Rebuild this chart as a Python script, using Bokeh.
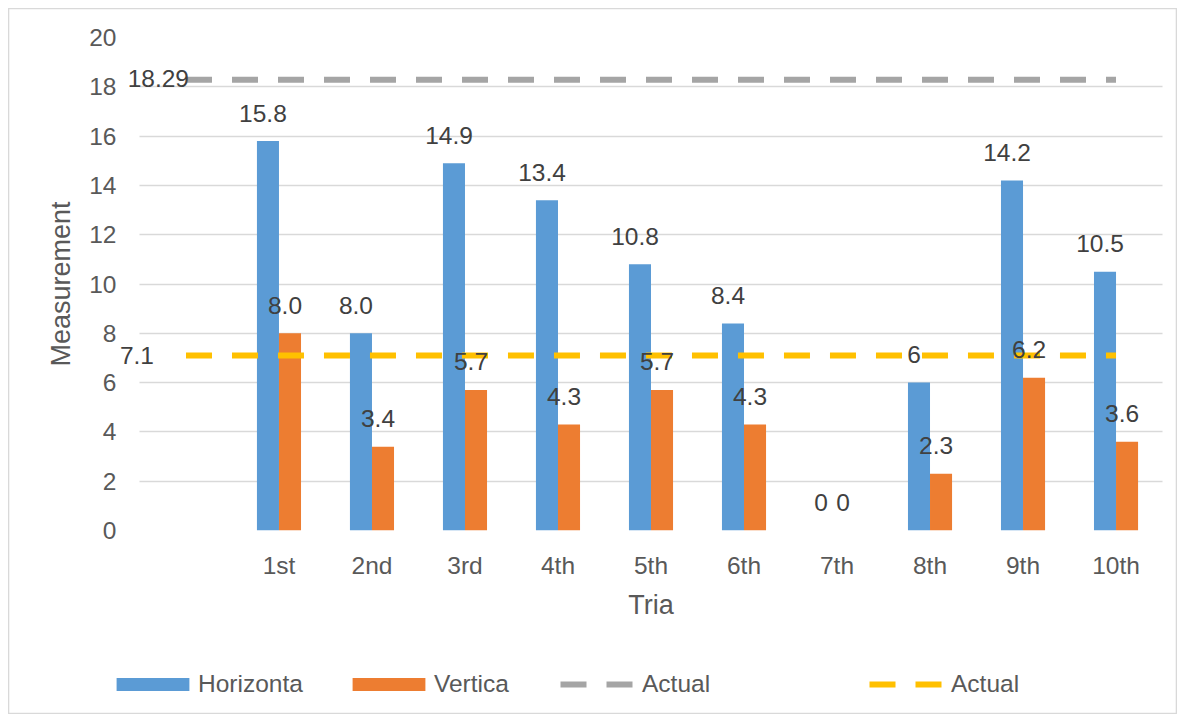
from bokeh.plotting import figure
from bokeh.layouts import column
from bokeh.models import (ColumnDataSource, FactorRange, Range1d, FixedTicker,
                          Legend, LegendItem, Title)
from bokeh.transform import dodge
from bokeh.core.properties import value
from bokeh.embed import file_html
from bokeh.resources import INLINE

# ---------------- data ----------------
categories = ["", "1st", "2nd", "3rd", "4th", "5th", "6th", "7th", "8th", "9th", "10th"]
trials = ["1st", "2nd", "3rd", "4th", "5th", "6th", "7th", "8th", "9th", "10th"]
horizontal = [15.8, 8.0, 14.9, 13.4, 10.8, 8.4, 0, 6, 14.2, 10.5]
vertical = [8.0, 3.4, 5.7, 4.3, 5.7, 4.3, 0, 2.3, 6.2, 3.6]
horizontal_labels = ["15.8", "8.0", "14.9", "13.4", "10.8", "8.4", "0", "6", "14.2", "10.5"]
vertical_labels = ["8.0", "3.4", "5.7", "4.3", "5.7", "4.3", "0", "2.3", "6.2", "3.6"]
actual_horizontal = [18.29, 18.29, 18.29, 18.29, 18.29, 18.29, 18.29, 18.29, 18.29, 18.29, 18.29]
actual_vertical = [7.1, 7.1, 7.1, 7.1, 7.1, 7.1, 7.1, 7.1, 7.1, 7.1, 7.1]
actual_horizontal_label = "18.29"
actual_vertical_label = "7.1"
y_ticks = [0, 2, 4, 6, 8, 10, 12, 14, 16, 18, 20]
x_title = "Tria"
y_title = "Measurement"
legend_labels = ["Horizonta", "Vertica", "Actual", "Actual"]

FONT = "Liberation Sans"
TICK_COLOR = "#595959"
LABEL_COLOR = "#404040"
BLUE = "#5B9BD5"
ORANGE = "#ED7D31"
GRAY = "#A5A5A5"
YELLOW = "#FFC000"
SMALL = "24.5px"
BIG = "27px"

# a little room on both sides of the categories so the labels of the
# reference lines (left of the first slot) are not clipped
PAD = 0.247

p = figure(x_range=FactorRange(factors=categories, range_padding=PAD,
                               range_padding_units="absolute"),
           y_range=Range1d(0, 20),
           width=1185, height=650,
           min_border_left=116, min_border_right=0,
           min_border_top=37, min_border_bottom=120,
           output_backend="svg", toolbar_location=None,
           outline_line_color=None,
           background_fill_alpha=0, border_fill_alpha=0)

# grid / axes
p.xgrid.grid_line_color = None
p.ygrid.grid_line_color = "#D9D9D9"
p.ygrid.grid_line_width = 1.3
if "cross_bounds" in p.ygrid[0].properties():
    p.ygrid[0].cross_bounds = (0, len(categories))
p.yaxis.ticker = FixedTicker(ticks=y_ticks)
for ax in (p.xaxis[0], p.yaxis[0]):
    ax.axis_line_color = None
    ax.major_tick_line_color = None
    ax.minor_tick_line_color = None
    ax.major_tick_out = 0
    ax.major_tick_in = 0
    ax.major_label_text_font = FONT
    ax.major_label_text_font_size = SMALL
    ax.major_label_text_color = TICK_COLOR
    ax.axis_label_text_font = FONT
    ax.axis_label_text_font_size = BIG
    ax.axis_label_text_font_style = "normal"
    ax.axis_label_text_color = TICK_COLOR
p.yaxis.major_label_standoff = 0
p.xaxis.major_label_standoff = 21
p.xaxis.axis_label = x_title
p.xaxis.axis_label_standoff = 8

# y title as a side title so it can sit a little below the frame's middle
p.add_layout(Title(text=y_title, align="center", offset=-28, standoff=19,
                   vertical_align="middle", text_font=FONT, text_font_size=BIG,
                   text_font_style="normal", text_color=TICK_COLOR), "left")

bar_src = ColumnDataSource(dict(trial=trials, h=horizontal, v=vertical,
                                hl=horizontal_labels, vl=vertical_labels))
line_src = ColumnDataSource(dict(cat=categories, ah=actual_horizontal, av=actual_vertical))

BW = 0.237
bar_h = dict(fill_color=BLUE, line_color=None)
bar_v = dict(fill_color=ORANGE, line_color=None)
line_g = dict(line_color=GRAY, line_width=6, line_dash="26 20")
line_y = dict(line_color=YELLOW, line_width=6, line_dash="26 20")

p.vbar(x=dodge("trial", -BW / 2, range=p.x_range), top="h", width=BW, source=bar_src, **bar_h)
p.vbar(x=dodge("trial", BW / 2, range=p.x_range), top="v", width=BW, source=bar_src, **bar_v)
p.line("cat", "ah", source=line_src, **line_g)
p.line("cat", "av", source=line_src, **line_y)

label_kw = dict(text_align="center", text_baseline="alphabetic", text_font=value(FONT),
                text_font_size=SMALL, text_color=LABEL_COLOR, x_offset=-5, y_offset=-28)
p.text(x=dodge("trial", -BW / 2, range=p.x_range), y="h", text="hl", source=bar_src, **label_kw)
p.text(x=dodge("trial", BW / 2, range=p.x_range), y="v", text="vl", source=bar_src, **label_kw)

p.text(x=[categories[0]], y=[actual_horizontal[0]], text=[actual_horizontal_label],
       text_align="right", text_baseline="middle", text_font=value(FONT),
       text_font_size=SMALL, text_color=LABEL_COLOR, x_offset=3, y_offset=-1)
p.text(x=[categories[0]], y=[actual_vertical[0]], text=[actual_vertical_label],
       text_align="right", text_baseline="middle", text_font=value(FONT),
       text_font_size=SMALL, text_color=LABEL_COLOR, x_offset=-32, y_offset=0)

# ---------------- legend strip below the chart ----------------
lf = figure(width=1185, height=72, x_range=Range1d(0, 1), y_range=Range1d(0, 1),
            x_axis_type=None, y_axis_type=None, min_border=0,
            output_backend="svg", toolbar_location=None, outline_line_color=None,
            background_fill_alpha=0, border_fill_alpha=0)
lf.grid.visible = False
# legend proxies: zero-height bars and single-point lines draw nothing themselves
r_h = lf.vbar(x=[0], top=[0], width=BW, **bar_h)
r_v = lf.vbar(x=[0], top=[0], width=BW, **bar_v)
r_g = lf.line(x=[0], y=[0], **line_g)
r_y = lf.line(x=[0], y=[0], **line_y)

common = dict(orientation="horizontal", padding=0, margin=0, border_line_color=None,
              background_fill_alpha=0, label_text_font=FONT, label_text_font_size=SMALL,
              label_text_color=TICK_COLOR)
bar_leg = dict(glyph_width=91, glyph_height=16, label_standoff=0, **common)
line_leg = dict(glyph_width=73, glyph_height=16, label_standoff=9, **common)

for label, rend, x, kw in [(legend_labels[0], r_h, -9, bar_leg),
                           (legend_labels[1], r_v, 227, bar_leg),
                           (legend_labels[2], r_g, 444, line_leg),
                           (legend_labels[3], r_y, 753, line_leg)]:
    lf.add_layout(Legend(items=[LegendItem(label=label, renderers=[rend])],
                         location=(x, 24), **kw))

layout = column(p, lf, spacing=0,
                styles={"background": "white",
                        "box-shadow": "inset 0 0 0 8px white, inset 0 0 0 9.3px #D9D9D9"})

open("out.html", "w").write(file_html(layout, INLINE))
